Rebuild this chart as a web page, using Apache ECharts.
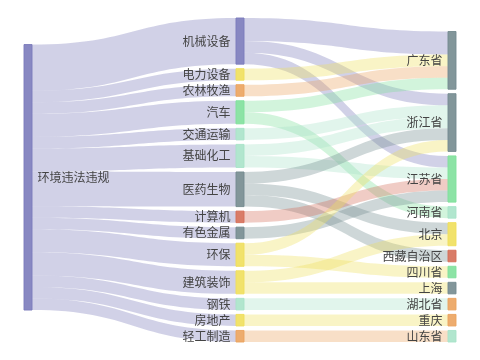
<!DOCTYPE html>
<html>
<head>
<meta charset="utf-8">
<script src="https://cdn.jsdelivr.net/npm/echarts@6/dist/echarts.min.js"></script>
<style>html,body{margin:0;padding:0;background:#fff}#c{width:480px;height:360px}</style>
</head>
<body>
<div id="c"></div>
<script>
const rootNode = '环境违法违规';
const industries = ['基础化工','医药生物','建筑装饰','机械设备','汽车','房地产','计算机','有色金属','交通运输','电力设备','钢铁','轻工制造','农林牧渔','环保'];
const industryValues = [2,3,2,4,2,1,1,1,1,1,1,1,1,2];
const regions = ['湖北省','西藏自治区','北京','重庆','广东省','浙江省','江苏省','山东省','河南省','上海','四川省'];
const flowSources = ['机械设备','机械设备','机械设备','电力设备','农林牧渔','汽车','汽车','交通运输','基础化工','基础化工','医药生物','医药生物','医药生物','计算机','有色金属','环保','环保','建筑装饰','建筑装饰','钢铁','房地产','轻工制造'];
const flowTargets = ['广东省','浙江省','江苏省','广东省','广东省','广东省','河南省','浙江省','浙江省','江苏省','浙江省','北京','西藏自治区','江苏省','江苏省','浙江省','四川省','北京','上海','湖北省','重庆','山东省'];
const flowValues = [2,1,1,1,1,1,1,1,1,1,1,1,1,1,1,1,1,1,1,1,1,1];

const palette = {purple:'#7b7bbb',yellow:'#efdf5b',orange:'#eba35e',green:'#7fe09b',mint:'#a9e3c9',slate:'#748b8f',red:'#d56e58'};
const nodeColors = {
  '环境违法违规':'purple','机械设备':'purple','电力设备':'yellow','农林牧渔':'orange','汽车':'green','交通运输':'mint',
  '基础化工':'mint','医药生物':'slate','计算机':'red','有色金属':'slate','环保':'yellow','建筑装饰':'yellow','钢铁':'mint',
  '房地产':'yellow','轻工制造':'orange','广东省':'slate','浙江省':'slate','江苏省':'green','河南省':'mint','北京':'yellow',
  '西藏自治区':'red','四川省':'green','上海':'slate','湖北省':'orange','重庆':'orange','山东省':'mint'
};

const names = [rootNode].concat(industries, regions);
const nodes = names.map(n => {
  const c = palette[nodeColors[n]];
  const o = {name: n, itemStyle: {color: c, borderColor: c, borderWidth: 1, opacity: 0.9}};
  if (n === rootNode) o.label = {position: 'right'};
  return o;
});
const links = industries.map((n, i) => ({source: rootNode, target: n, value: industryValues[i]}))
  .concat(flowSources.map((s, i) => ({source: s, target: flowTargets[i], value: flowValues[i]})));

const chart = echarts.init(document.getElementById('c'), null, {renderer: 'canvas'});
chart.setOption({
  animation: false,
  series: [{
    type: 'sankey',
    left: '5%', right: '5%', top: '5%', bottom: '5%',
    nodeWidth: 8,
    nodeGap: 4.5,
    data: nodes,
    links: links,
    label: {position: 'left', color: '#444', fontSize: 12, fontFamily: 'Noto Sans CJK SC'},
    lineStyle: {color: 'source', opacity: 0.35, curveness: 0.5},
    emphasis: {disabled: true}
  }]
});
</script>
</body>
</html>
